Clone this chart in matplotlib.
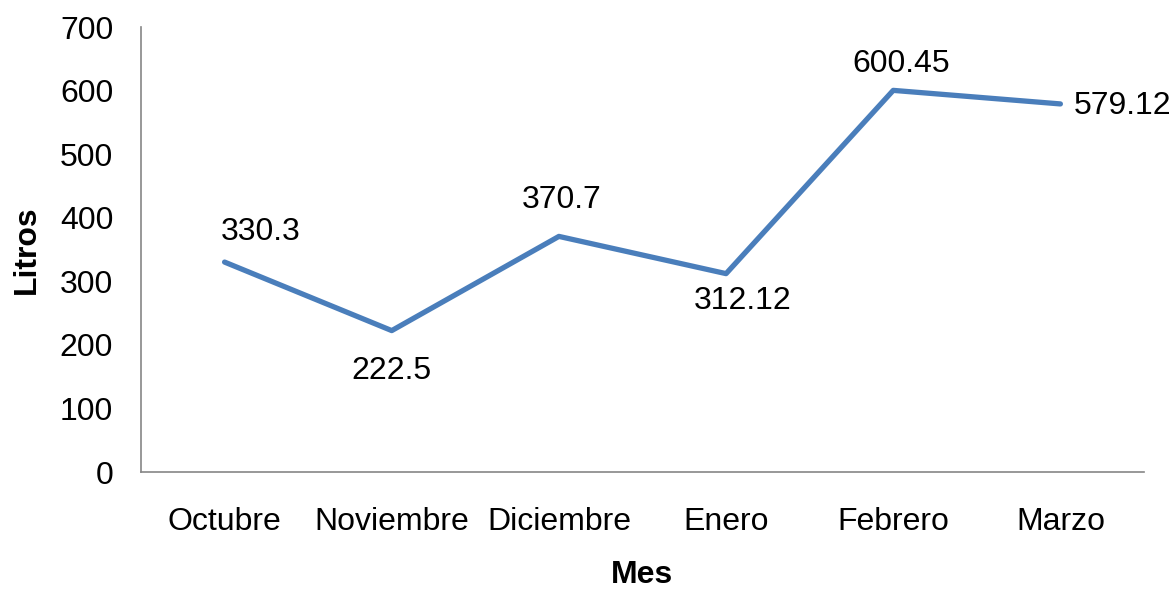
import matplotlib.pyplot as plt

plt.rcParams['font.family'] = ['Liberation Sans', 'DejaVu Sans']

meses = ["Octubre", "Noviembre", "Diciembre", "Enero", "Febrero", "Marzo"]
litros = [330.3, 222.5, 370.7, 312.12, 600.45, 579.12]
etiquetas = ["330.3", "222.5", "370.7", "312.12", "600.45", "579.12"]

# label placement (pixels from the point) and alignment
label_offsets = [(36, 30), (0, -40), (3, 36), (17, -27), (8, 26), (13, -2)]
label_ha = ["center", "center", "center", "center", "center", "left"]

fig = plt.figure(figsize=(11.75, 5.89), dpi=100)
ax = fig.add_axes([0.12, 0.1986, 0.8536, 0.7554])

x = [i + 0.5 for i in range(len(meses))]
ax.plot(x, litros, color="#4A7EBB", linewidth=3.8, solid_capstyle="round")

for xi, yi, txt, off, ha in zip(x, litros, etiquetas, label_offsets, label_ha):
    ax.annotate(txt, (xi, yi), xytext=off, textcoords="offset pixels",
                ha=ha, va="center", fontsize=23)

ax.set_xlim(0, len(meses))
ax.set_ylim(0, 700)
ax.set_yticks(range(0, 701, 100))
ax.set_xticks(x)
ax.set_xticklabels(meses)
ax.tick_params(axis="both", length=0, labelsize=23)
ax.tick_params(axis="y", pad=20)
ax.tick_params(axis="x", pad=25)

for s in ["top", "right"]:
    ax.spines[s].set_visible(False)
for s in ["left", "bottom"]:
    ax.spines[s].set_color("#868686")
    ax.spines[s].set_linewidth(1.2)

ax.set_xlabel("Mes", fontsize=23, fontweight="bold", labelpad=17)
ax.set_ylabel("Litros", fontsize=23, fontweight="bold", labelpad=13)

fig.savefig("out.png", dpi=100)
